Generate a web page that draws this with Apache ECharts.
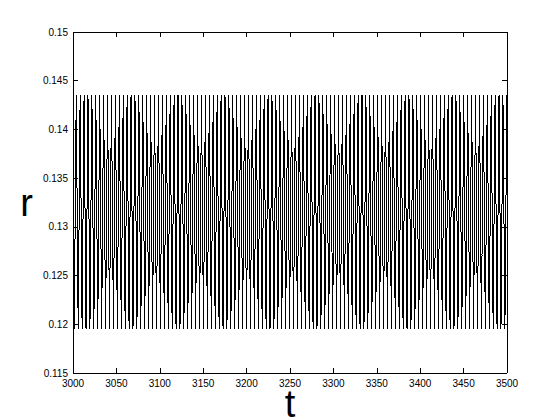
<!DOCTYPE html>
<html>
<head>
<meta charset="utf-8">
<script src="https://cdn.jsdelivr.net/npm/echarts@6/dist/echarts.min.js"></script>
<style>
  html, body { margin: 0; padding: 0; background: #fff; }
  #chart { width: 560px; height: 420px; }
  /* plot without anti-aliasing, like the original figure */
  #chart path { shape-rendering: crispEdges; }
</style>
</head>
<body>
<div id="chart"></div>
<script>
var xTicks = [3000, 3050, 3100, 3150, 3200, 3250, 3300, 3350, 3400, 3450, 3500]
var yTicks = [0.115, 0.12, 0.125, 0.13, 0.135, 0.14, 0.145, 0.15]

// start of the trace, then its turning points (trough, peak, trough, ...)
var tStart = 3000
var rStart = 0.1370
var tFirstTurn = 3001.47
var halfPeriod = 2.255
var rTurns = [
  0.1195, 0.1435, 0.1195, 0.1435, 0.1195, 0.1435, 0.1195, 0.1435, 0.1195, 0.1435,
  0.1195, 0.1435, 0.1195, 0.1435, 0.1195, 0.1435, 0.1195, 0.1435, 0.1195, 0.1435,
  0.1195, 0.1435, 0.1195, 0.1435, 0.1195, 0.1435, 0.1195, 0.1435, 0.1195, 0.1435,
  0.1195, 0.1435, 0.1195, 0.1435, 0.1195, 0.1435, 0.1195, 0.1435, 0.1195, 0.1435,
  0.1195, 0.1435, 0.1195, 0.1435, 0.1195, 0.1435, 0.1195, 0.1435, 0.1195, 0.1435,
  0.1195, 0.1435, 0.1195, 0.1435, 0.1195, 0.1435, 0.1195, 0.1435, 0.1195, 0.1435,
  0.1195, 0.1435, 0.1195, 0.1435, 0.1195, 0.1435, 0.1195, 0.1435, 0.1195, 0.1435,
  0.1195, 0.1435, 0.1195, 0.1435, 0.1195, 0.1435, 0.1195, 0.1435, 0.1195, 0.1435,
  0.1195, 0.1435, 0.1195, 0.1435, 0.1195, 0.1435, 0.1195, 0.1435, 0.1195, 0.1435,
  0.1195, 0.1435, 0.1195, 0.1435, 0.1195, 0.1435, 0.1195, 0.1435, 0.1195, 0.1435,
  0.1195, 0.1435, 0.1195, 0.1435, 0.1195, 0.1435, 0.1195, 0.1435, 0.1195, 0.1435,
  0.1195, 0.1435, 0.1195, 0.1435, 0.1195, 0.1435, 0.1195, 0.1435, 0.1195, 0.1435,
  0.1195, 0.1435, 0.1195, 0.1435, 0.1195, 0.1435, 0.1195, 0.1435, 0.1195, 0.1435,
  0.1195, 0.1435, 0.1195, 0.1435, 0.1195, 0.1435, 0.1195, 0.1435, 0.1195, 0.1435,
  0.1195, 0.1435, 0.1195, 0.1435, 0.1195, 0.1435, 0.1195, 0.1435, 0.1195, 0.1435,
  0.1195, 0.1435, 0.1195, 0.1435, 0.1195, 0.1435, 0.1195, 0.1435, 0.1195, 0.1435,
  0.1195, 0.1435, 0.1195, 0.1435, 0.1195, 0.1435, 0.1195, 0.1435, 0.1195, 0.1435,
  0.1195, 0.1435, 0.1195, 0.1435, 0.1195, 0.1435, 0.1195, 0.1435, 0.1195, 0.1435,
  0.1195, 0.1435, 0.1195, 0.1435, 0.1195, 0.1435, 0.1195, 0.1435, 0.1195, 0.1435,
  0.1195, 0.1435, 0.1195, 0.1435, 0.1195, 0.1435, 0.1195, 0.1435, 0.1195, 0.1435,
  0.1195, 0.1435, 0.1195, 0.1435, 0.1195, 0.1435, 0.1195, 0.1435, 0.1195, 0.1435,
  0.1195, 0.1435, 0.1195, 0.1435, 0.1195, 0.1435, 0.1195, 0.1435, 0.1195, 0.1435,
  0.1195, 0.1435
]

var chart = echarts.init(document.getElementById('chart'), null, { renderer: 'svg' })

var seriesData = [[tStart, rStart]].concat(rTurns.map(function (r, i) {
  return [tFirstTurn + i * halfPeriod, r]
}))

var fontFamily = '"Liberation Sans", Arial, Helvetica, sans-serif'

function boxAxis(base) {
  // black frame, short inward ticks, no grid lines
  return Object.assign({
    type: 'value',
    axisLine: { show: true, onZero: false, lineStyle: { color: '#000', width: 1 } },
    axisTick: { show: true, inside: true, length: 5, lineStyle: { color: '#000' } },
    splitLine: { show: false }
  }, base)
}

var option = {
  animation: false,
  backgroundColor: '#fff',
  grid: { left: 73, right: 53, top: 32, bottom: 47, outerBoundsMode: 'none', containLabel: false },
  xAxis: [
    boxAxis({
      position: 'bottom',
      min: xTicks[0],
      max: xTicks[xTicks.length - 1],
      interval: 50,
      name: 't',
      nameLocation: 'middle',
      nameGap: 17,
      nameMoveOverlap: false,
      nameTextStyle: {
        color: '#000',
        fontSize: 38,
        lineHeight: 28,
        fontFamily: fontFamily,
        verticalAlign: 'top'
      },
      axisLabel: {
        color: '#000',
        fontSize: 10,
        fontFamily: fontFamily,
        margin: 5,
        formatter: function (v) { return String(v) }
      }
    }),
    boxAxis({
      position: 'top',
      min: xTicks[0],
      max: xTicks[xTicks.length - 1],
      interval: 50,
      axisLabel: { show: false }
    })
  ],
  yAxis: [
    boxAxis({
      position: 'left',
      min: yTicks[0],
      max: yTicks[yTicks.length - 1],
      interval: 0.005,
      name: 'r',
      nameLocation: 'middle',
      nameRotate: 0,
      nameGap: 40,
      nameMoveOverlap: false,
      nameTextStyle: { color: '#000', fontSize: 38, fontFamily: fontFamily },
      axisLabel: { color: '#000', fontSize: 10, fontFamily: fontFamily, margin: 5 }
    }),
    boxAxis({
      position: 'right',
      min: yTicks[0],
      max: yTicks[yTicks.length - 1],
      interval: 0.005,
      axisLabel: { show: false }
    })
  ],
  series: [
    {
      type: 'line',
      data: seriesData,
      symbol: 'none',
      smooth: false,
      clip: true,
      lineStyle: { color: '#000', width: 1 }
    }
  ]
}

chart.setOption(option)
</script>
</body>
</html>
